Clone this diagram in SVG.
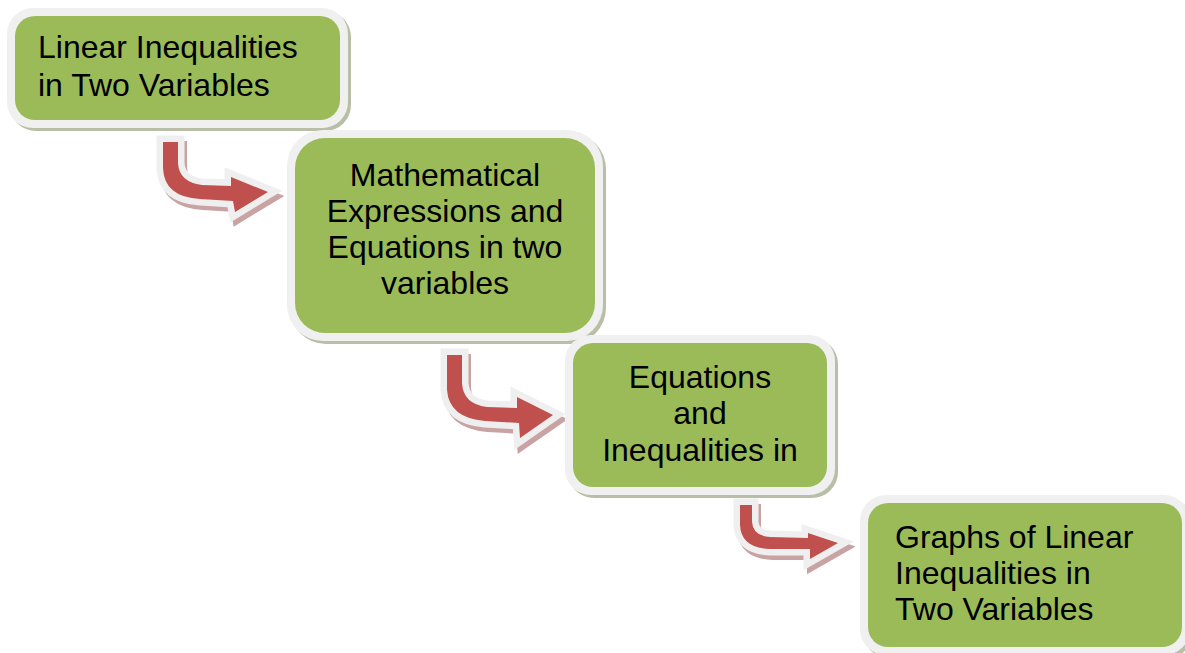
<svg xmlns="http://www.w3.org/2000/svg" width="1185" height="653" viewBox="0 0 1185 653">
<style>
.shadow{fill:#b9bfa6}
.frame{fill:#f0f0f0}
.box{fill:#9bbb59}
.t{font-family:"Liberation Sans",Arial,sans-serif;font-size:32px;fill:#000}
.c{text-anchor:middle}
.ash{fill:#c9a3a3;stroke:#c9a3a3;stroke-width:12;stroke-linejoin:miter}
.aout{fill:#efefef;stroke:#efefef;stroke-width:13;stroke-linejoin:miter}
.ain{fill:#c0504d}
</style>
<rect width="1185" height="653" fill="#fff"/>
<g id="connectors">
  <g id="arrow1">
    <path class="ash" transform="translate(3,5)" d="M163,142 L178,142 L178,163 Q179,182 202,185 L231,186 L231,177 L268,192 L235,212 L233,201 L200,199 Q164,197 163,168 Z"/>
    <path class="aout" d="M163,142 L178,142 L178,163 Q179,182 202,185 L231,186 L231,177 L268,192 L235,212 L233,201 L200,199 Q164,197 163,168 Z"/>
    <path class="ain" d="M163,142 L178,142 L178,163 Q179,182 202,185 L231,186 L231,177 L268,192 L235,212 L233,201 L200,199 Q164,197 163,168 Z"/>
  </g>
  <g id="arrow2">
    <path class="ash" transform="translate(3,5)" d="M447,355 L462,355 L462,383 Q463,404 487,407 L517,408 L517,397 L553,415 L520,438 L519,423 L485,421 Q449,418 447,390 Z"/>
    <path class="aout" d="M447,355 L462,355 L462,383 Q463,404 487,407 L517,408 L517,397 L553,415 L520,438 L519,423 L485,421 Q449,418 447,390 Z"/>
    <path class="ain" d="M447,355 L462,355 L462,383 Q463,404 487,407 L517,408 L517,397 L553,415 L520,438 L519,423 L485,421 Q449,418 447,390 Z"/>
  </g>
  <g id="arrow3">
    <path class="ash" transform="translate(3,5)" d="M740,505 L752,505 L752,522 Q753,536 770,537 L808,538 L808,533 L838,543 L810,559 L810,549 L770,549 Q741,548 740,525 Z"/>
    <path class="aout" d="M740,505 L752,505 L752,522 Q753,536 770,537 L808,538 L808,533 L838,543 L810,559 L810,549 L770,549 Q741,548 740,525 Z"/>
    <path class="ain" d="M740,505 L752,505 L752,522 Q753,536 770,537 L808,538 L808,533 L838,543 L810,559 L810,549 L770,549 Q741,548 740,525 Z"/>
  </g>
</g>
<g id="node1">
  <rect class="shadow" x="10" y="11" width="341" height="120" rx="26"/>
  <rect class="frame" x="7" y="8" width="341" height="120" rx="26"/>
  <rect class="box" x="15" y="16" width="325" height="104" rx="20"/>
  <text class="t" x="38" y="58">Linear Inequalities</text>
  <text class="t" x="38" y="96">in Two Variables</text>
</g>
<g id="node2">
  <rect class="shadow" x="290" y="133" width="316" height="211" rx="36"/>
  <rect class="frame" x="287" y="130" width="316" height="211" rx="36"/>
  <rect class="box" x="295" y="138" width="300" height="195" rx="30"/>
  <text class="t c" x="445" y="186">Mathematical</text>
  <text class="t c" x="445" y="222">Expressions and</text>
  <text class="t c" x="445" y="258">Equations in two</text>
  <text class="t c" x="445" y="294">variables</text>
</g>
<g id="node3">
  <rect class="shadow" x="568" y="338" width="270" height="160" rx="26"/>
  <rect class="frame" x="565" y="335" width="270" height="160" rx="26"/>
  <rect class="box" x="573" y="343" width="254" height="144" rx="20"/>
  <text class="t c" x="700" y="388">Equations</text>
  <text class="t c" x="700" y="424">and</text>
  <text class="t c" x="700" y="461">Inequalities in</text>
</g>
<g id="node4">
  <rect class="shadow" x="863" y="498" width="330" height="160" rx="26"/>
  <rect class="frame" x="860" y="495" width="330" height="160" rx="26"/>
  <rect class="box" x="868" y="503" width="314" height="144" rx="20"/>
  <text class="t" x="895" y="548">Graphs of Linear</text>
  <text class="t" x="895" y="584">Inequalities in</text>
  <text class="t" x="895" y="620">Two Variables</text>
</g>
</svg>
